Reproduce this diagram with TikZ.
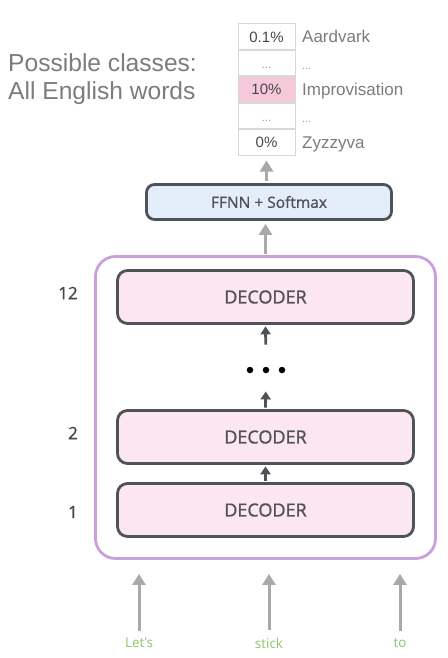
\documentclass[tikz,border=0pt]{standalone}
\usepackage{fontspec}
\setmainfont{Liberation Sans}
\newfontfamily\opensans{Open Sans}
\newfontfamily\opensansmed[FakeBold=1.1]{Open Sans}
\usepackage{tikz}
\usetikzlibrary{arrows.meta,positioning}

\definecolor{stackpurple}{HTML}{C9A0DC}
\definecolor{decpink}{HTML}{FCE6EF}
\definecolor{decborder}{HTML}{4F5258}
\definecolor{ffnnblue}{HTML}{E4EEFB}
\definecolor{flowgray}{HTML}{A8AAA8}
\definecolor{cellgray}{HTML}{D8D8D8}
\definecolor{cellpink}{HTML}{F6C9DA}
\definecolor{textgray}{HTML}{7C7C7C}
\definecolor{wordgreen}{HTML}{8CC866}

\begin{document}
\begin{tikzpicture}[x=1pt,y=-1pt,
  decoder/.style={draw=decborder,line width=2.8pt,fill=decpink,rounded corners=10pt,
    minimum width=296pt,minimum height=53pt,text=decborder,
    font=\opensansmed\fontsize{18}{20}\selectfont},
  headbox/.style={draw=decborder,line width=2.8pt,fill=ffnnblue,rounded corners=8pt,
    minimum width=245pt,minimum height=35pt,text=decborder,
    font=\opensansmed\fontsize{15.5}{18}\selectfont},
  cell/.style={draw=cellgray,line width=1pt,minimum width=57pt,minimum height=25.4pt,
    inner sep=0pt,text height=10.7pt,text depth=0pt,text=black!72,
    font=\fontsize{15}{17}\selectfont},
  lbl/.style={inner sep=0pt,text height=12.2pt,text depth=0pt,text=textgray,
    font=\fontsize{17}{19}\selectfont},
  layer/.style={text=black!72,font=\opensansmed\fontsize{17}{19}\selectfont},
  word/.style={text=wordgreen,font=\opensans\fontsize{13.5}{16}\selectfont},
  bead/.style={circle,fill=black,inner sep=0pt,minimum size=6.5pt},
  flow/.style={>={Triangle[length=11pt,width=13pt]},->,draw=flowgray,line width=3pt},
  inner/.style={>={Triangle[length=8pt,width=10pt]},->,draw=decborder,line width=2.8pt}]

\useasboundingbox (0,0) rectangle (447,658);

% The decoder stack and its frame.
\node[draw=stackpurple,line width=2.8pt,rounded corners=20pt,
  minimum width=340pt,minimum height=302pt] (stack) at (265.5,407.5) {};
\node[decoder] (dec12) at (265.5,297) {DECODER};
\node[decoder] (dec2) at (265.5,437) {DECODER};
\node[decoder] (dec1) at (265.5,510) {DECODER};

\node[bead] (beadA) at (250,370) {};
\node[bead] (beadB) at (266,370) {};
\node[bead] (beadC) at (282,370) {};

\node[layer] (n12) at (68,293) {12};
\node[layer] (n2) at (73,433) {2};
\node[layer] (n1) at (73,512) {1};

% Output head and word table.
\node[headbox] (ffnn) at (269,202) {FFNN + Softmax};

\node[cell] (cell1) at (266.5,36.7) {0.1\%};
\node[cell,below=0pt of cell1] (cell2) {\textcolor{black!40}{\fontsize{11}{12}\selectfont...}};
\node[cell,below=0pt of cell2,fill=cellpink] (cell3) {10\%};
\node[cell,below=0pt of cell3] (cell4) {\textcolor{black!40}{\fontsize{11}{12}\selectfont...}};
\node[cell,below=0pt of cell4] (cell5) {0\%};

\node[lbl,right=6.5pt of cell1] (aard) {Aardvark};
\node[lbl,right=6.5pt of cell2,text=black!40,font=\fontsize{11}{12}\selectfont] (gapA) {...};
\node[lbl,right=6.5pt of cell3] (impro) {Improvisation};
\node[lbl,right=6.5pt of cell4,text=black!40,font=\fontsize{11}{12}\selectfont] (gapB) {...};
\node[lbl,right=6.5pt of cell5] (zyz) {Zyzzyva};

\node[anchor=base west,inner sep=0pt,text=textgray,font=\fontsize{24.6}{28}\selectfont]
  (classA) at (8,72) {Possible classes:};
\node[anchor=base west,inner sep=0pt,text=textgray,font=\fontsize{24.6}{28}\selectfont]
  (classB) at (8,100) {All English words};

% Input words.
\node[word] (wA) at (139,643) {Let’s};
\node[word] (wB) at (269,643) {stick};
\node[word] (wC) at (400,643) {to};

% Draw arrows.
\draw[flow,shorten <=4pt,shorten >=14pt] (wA.north) -- (wA.north |- stack.south);
\draw[flow,shorten <=4pt,shorten >=14pt] (wB.north) -- (wB.north |- stack.south);
\draw[flow,shorten <=4pt,shorten >=14pt] (wC.north) -- (wC.north |- stack.south);

\draw[inner,shorten <=1.4pt,shorten >=1.4pt] (dec1.north) -- (dec2.south);
\draw[inner,shorten <=1.4pt,shorten >=18pt] (dec2.north) -- (beadB.south);
\draw[inner,shorten <=22pt,shorten >=1.4pt] (beadB.north) -- (dec12.south);

\draw[flow,shorten <=1.5pt,shorten >=3pt] (stack.north) -- (stack.north |- ffnn.south);
\draw[flow,shorten <=2pt,shorten >=5pt] (cell5.south |- ffnn.north) -- (cell5.south);
\end{tikzpicture}
\end{document}
